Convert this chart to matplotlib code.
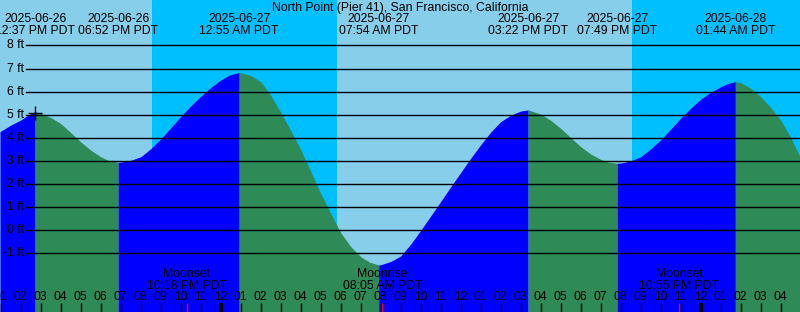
import numpy as np
import matplotlib
matplotlib.use("Agg")
from matplotlib import pyplot as plt
import matplotlib.transforms as mtransforms

plt.rcParams['font.family'] = ['Liberation Sans', 'DejaVu Sans']

# Tide data, hours counted from 2025-06-26 00:00 PDT
station = "North Point (Pier 41), San Francisco, California"

curve_hours = [12.965, 13.5, 14, 14.36, 14.72, 15, 15.5, 16, 16.5, 17, 17.5, 18, 18.4, 18.87,
               19, 19.5, 20, 20.5, 21, 21.5, 22, 22.5, 23, 23.5, 24, 24.45, 24.92,
               25, 25.5, 26, 26.5, 27, 27.5, 28, 28.5, 29, 29.5, 30, 30.5, 31, 31.45, 31.9,
               32, 32.5, 33, 33.5, 34, 34.5, 35, 35.5, 36, 36.5, 37, 37.5, 38, 38.5, 39, 39.37,
               40, 40.5, 41, 41.5, 42, 42.5, 43, 43.4, 43.82,
               44, 44.5, 45, 45.5, 46, 46.5, 47, 47.5, 48, 48.5, 49, 49.35, 49.73,
               50, 50.5, 51, 51.5, 52, 52.5, 52.965]
curve_ft = [4.27, 4.55, 4.77, 4.98, 5.13, 5.06, 4.88, 4.62, 4.23, 3.83, 3.47, 3.18, 3.02, 2.94,
            2.95, 3.03, 3.18, 3.53, 3.95, 4.43, 4.92, 5.38, 5.80, 6.18, 6.50, 6.72, 6.83,
            6.82, 6.70, 6.43, 5.85, 5.10, 4.33, 3.50, 2.55, 1.60, 0.73, -0.10, -0.70, -1.14, -1.38, -1.50,
            -1.49, -1.35, -1.11, -0.60, 0.0, 0.62, 1.25, 1.88, 2.50, 3.12, 3.70, 4.25, 4.70, 4.98, 5.16, 5.21,
            5.03, 4.76, 4.41, 4.01, 3.62, 3.30, 3.07, 2.95, 2.90,
            2.91, 3.00, 3.18, 3.52, 3.91, 4.38, 4.85, 5.28, 5.67, 5.97, 6.21, 6.35, 6.43,
            6.39, 6.15, 5.78, 5.32, 4.77, 4.02, 3.18]

# high / low tide events (position on chart + label)
event_hours = [14.72, 18.87, 24.92, 31.9, 39.37, 43.82, 49.73]
event_dates = ["2025-06-26", "2025-06-26", "2025-06-27", "2025-06-27", "2025-06-27", "2025-06-27", "2025-06-28"]
event_times = ["12:37 PM PDT", "06:52 PM PDT", "12:55 AM PDT", "07:54 AM PDT", "03:22 PM PDT", "07:49 PM PDT", "01:44 AM PDT"]

# sun and moon
sunset_hours = [20.565, 44.565]
sunrise_hours = [29.815]
moon_hours = [22.3, 32.083, 46.917]
moon_names = ["Moonset", "Moonrise", "Moonset"]
moon_times = ["10:18 PM PDT", "08:05 AM PDT", "10:55 PM PDT"]
midnight_hours = [24, 48]

now_hour, now_ft = 14.72, 5.07

x0, x1 = 12.965, 52.965
y0, y1 = -3.535, 9.965
fs = 8.8

fig = plt.figure(figsize=(8, 3.12), dpi=100)
ax = fig.add_axes([0, 0, 1, 1])
ax.set_xlim(x0, x1)
ax.set_ylim(y0, y1)
ax.axis('off')

# day / night background
ax.axvspan(x0, x1, color='#87CEEB', lw=0, zorder=0)
ax.axvspan(sunset_hours[0], sunrise_hours[0], color='#00BFFF', lw=0, zorder=0)
ax.axvspan(sunset_hours[1], x1, color='#00BFFF', lw=0, zorder=0)

# tide fill, blue rising, green falling
hrs = np.array(curve_hours)
ft = np.array(curve_ft)
bounds = [x0] + event_hours + [x1]
for a, b in zip(bounds[:-1], bounds[1:]):
    m = (hrs >= a - 1e-6) & (hrs <= b + 1e-6)
    rising = ft[m][-1] > ft[m][0]
    ax.fill_between(hrs[m], y0, ft[m], color='#0000FF' if rising else '#2E8B57',
                    lw=0, antialiased=True, zorder=1)

# horizontal lines + labels
yt = mtransforms.blended_transform_factory(ax.transAxes, ax.transData)
for f in range(-1, 9):
    ax.axhline(f, xmin=26 / 800, xmax=1, color='black', lw=1, zorder=2)
    ax.text(24 / 800, f, f"{f} ft", transform=yt, ha='right', va='center', fontsize=fs, zorder=3)

ax.plot([now_hour], [now_ft], marker='+', color='black', ms=10, mew=1, zorder=3)

# top labels
ax.text(0.5, 1 - 8 / 312, station, transform=ax.transAxes, ha='center', va='center', fontsize=fs)
xt = mtransforms.blended_transform_factory(ax.transData, ax.transAxes)
for h, d, t in zip(event_hours, event_dates, event_times):
    ax.text(h, 1 - 19.5 / 312, d, transform=xt, ha='center', va='center', fontsize=fs)
    ax.text(h, 1 - 31.5 / 312, t, transform=xt, ha='center', va='center', fontsize=fs)

# hour ticks
for h in range(13, 53):
    lw = 3 if h in midnight_hours else 1
    ax.plot([h, h], [0, 9 / 312], transform=xt, color='black', lw=lw, solid_capstyle='butt', zorder=3)
    lab = f"{(h - 1) % 12 + 1:02d}"
    ax.text(h, 15 / 312, lab, transform=xt, ha='center', va='center', fontsize=fs, zorder=3)
for h in moon_hours:
    ax.plot([h, h], [0, 9 / 312], transform=xt, color='red', lw=1, solid_capstyle='butt', zorder=4)

for h, n, t in zip(moon_hours, moon_names, moon_times):
    ax.text(h, 38 / 312, n, transform=xt, ha='center', va='center', fontsize=fs, zorder=3)
    ax.text(h, 26 / 312, t, transform=xt, ha='center', va='center', fontsize=fs, zorder=3)

fig.savefig('out.png', dpi=100)
